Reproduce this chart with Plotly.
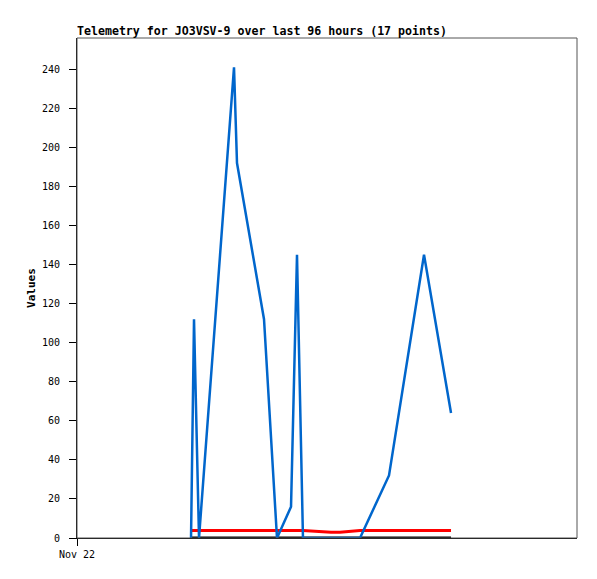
import plotly.graph_objects as go

times = ["2023-11-23 03:22", "2023-11-23 04:05", "2023-11-23 04:26", "2023-11-23 05:17",
         "2023-11-23 13:41", "2023-11-23 14:24", "2023-11-23 20:53", "2023-11-24 00:00",
         "2023-11-24 03:22", "2023-11-24 04:48", "2023-11-24 06:14", "2023-11-24 12:58",
         "2023-11-24 15:07", "2023-11-24 19:55", "2023-11-25 02:53", "2023-11-25 11:17",
         "2023-11-25 17:46"]
blue_vals = [0, 112, 79, 0, 241, 192, 112, 0, 16, 145, 0, 0, 0, 0, 32, 145, 64]
red_vals = [3.8, 3.8, 3.8, 3.8, 3.8, 3.8, 3.8, 3.8, 3.8, 3.8, 3.8, 3.0, 3.0, 3.8, 3.8, 3.8, 3.8]
black_vals = [0] * 17
y_ticks = list(range(0, 260, 20))
x_start = "2023-11-22 00:00"
x_end = "2023-11-27 00:00"

mono = "DejaVu Sans Mono"
W, H = 589, 571  # page body adds an 8px offset
fig = go.Figure()
fig.add_trace(go.Scatter(x=times, y=black_vals, mode="lines",
                         line=dict(color="#000000", width=3), showlegend=False))
fig.add_trace(go.Scatter(x=times, y=red_vals, mode="lines",
                         line=dict(color="#ff0000", width=3), showlegend=False))
fig.add_trace(go.Scatter(x=times, y=blue_vals, mode="lines",
                         line=dict(color="#0066cc", width=2.5), showlegend=False))

fig.update_layout(
    width=W, height=H,
    margin=dict(l=69, r=20, t=30, b=41, autoexpand=False),
    paper_bgcolor="white", plot_bgcolor="white",
    title=dict(text="<b>Telemetry for JO3VSV-9 over last 96 hours (17 points)</b>",
               x=69 / W, xanchor="left", y=1 - 23 / H, yanchor="middle",
               font=dict(family=mono, size=11.6, color="black")),
    xaxis=dict(type="date", range=[x_start, x_end], tickvals=[x_start], ticktext=["Nov 22"],
               automargin=False,
               showgrid=False, zeroline=False, showline=True, linecolor="black", linewidth=1,
               ticks="outside", ticklen=7, tickcolor="black",
               tickfont=dict(family=mono, size=10, color="black")),
    yaxis=dict(range=[0, 256], tickvals=y_ticks, showgrid=False, zeroline=False,
               automargin=False,
               showline=True, linecolor="black", linewidth=1,
               ticks="outside", ticklen=7, tickcolor="black", ticklabelstandoff=7,
               tickfont=dict(family=mono, size=10, color="black"),
               title=dict(text="<b>Values</b>", standoff=4,
                          font=dict(family=mono, size=11, color="black"))),
    shapes=[dict(type="rect", xref="paper", yref="paper", x0=0, x1=1, y0=0, y1=1,
                 line=dict(color="#555555", width=1), layer="above")],
)
fig.write_html("out.html")
